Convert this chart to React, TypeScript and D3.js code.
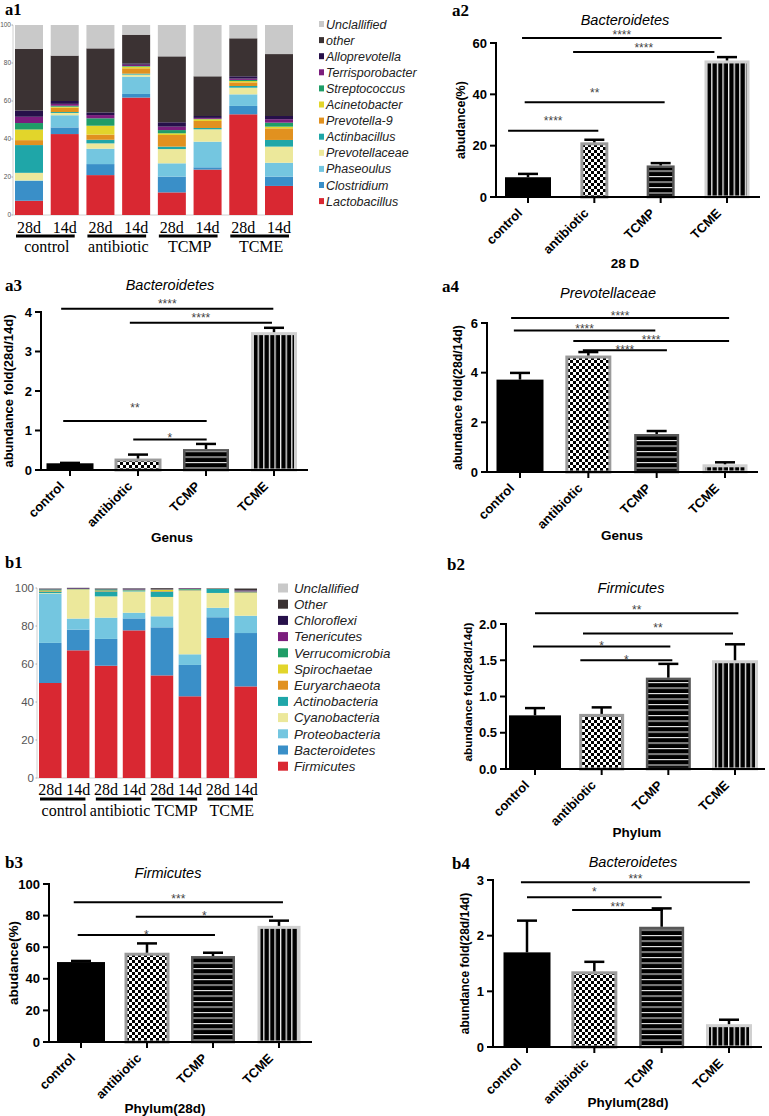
import React from 'react';
import * as d3 from 'd3';

const W = 769;
const H = 1116;
const SANS = "'Liberation Sans', Arial, sans-serif";
const SERIF = "'Liberation Serif', 'Times New Roman', serif";

// ---------- data ----------
const groups = ['control', 'antibiotic', 'TCMP', 'TCME'];
const days = ['28d', '14d'];

const genusNames = ['Lactobacillus', 'Clostridium', 'Phaseoulus', 'Prevotellaceae', 'Actinbacillus', 'Prevotella-9', 'Acinetobacter', 'Streptococcus', 'Terrisporobacter', 'Alloprevotella', 'other', 'Unclallified'];
const genusColors = ['#d92832', '#3a8fc8', '#74c6e0', '#ece89b', '#1fa6a8', '#e1911f', '#e2d52b', '#1f9d67', '#7b1d7d', '#26104a', '#3b3233', '#c9c9c9'];
const genusValues = [
  [7.5, 10.4, 0.3, 4.0, 14.6, 2.6, 5.6, 3.4, 3.3, 3.3, 32.5, 12.5],
  [42.6, 3.5, 6.4, 1.2, 0.5, 2.3, 0.5, 0.5, 1.0, 1.5, 23.9, 16.1],
  [21.0, 5.8, 8.1, 2.8, 1.9, 2.7, 4.7, 3.9, 1.7, 1.4, 33.7, 12.3],
  [61.8, 1.9, 9.1, 1.1, 0.5, 2.8, 0.9, 0.3, 0.7, 0.7, 15.1, 5.1],
  [11.9, 8.3, 7.0, 7.5, 1.3, 6.1, 0.9, 1.7, 1.8, 2.3, 34.7, 16.5],
  [23.9, 1.2, 13.5, 6.5, 0.7, 3.7, 0.9, 0.2, 0.5, 1.0, 20.9, 27.0],
  [53.0, 4.4, 6.1, 3.5, 0.9, 1.9, 0.7, 0.6, 0.7, 1.2, 20.0, 7.0],
  [15.3, 4.9, 7.3, 8.5, 3.5, 6.1, 0.9, 2.1, 1.8, 1.7, 32.6, 15.3],
];

const phylumNames = ['Firmicutes', 'Bacteroidetes', 'Proteobacteria', 'Cyanobacteria', 'Actinobacteria', 'Euryarchaeota', 'Spirochaetae', 'Verrucomicrobia', 'Tenericutes', 'Chloroflexi', 'Other', 'Unclallified'];
const phylumColors = ['#d92832', '#3a8fc8', '#74c6e0', '#ece89b', '#1fa6a8', '#e1911f', '#e2d52b', '#1f9d67', '#7b1d7d', '#26104a', '#3b3233', '#c9c9c9'];
const phylumValues = [
  [50.0, 21.1, 25.9, 0.3, 0.8, 0.3, 0.3, 0.6, 0.2, 0.1, 0.2, 0.2],
  [67.2, 10.9, 5.8, 15.2, 0.1, 0.1, 0.1, 0.1, 0.2, 0.3, 0.1, 0.0],
  [59.1, 14.1, 11.2, 11.2, 2.6, 0.4, 0.1, 0.6, 0.1, 0.1, 0.3, 0.2],
  [77.7, 6.3, 3.0, 11.2, 0.6, 0.1, 0.1, 0.1, 0.2, 0.4, 0.2, 0.1],
  [54.0, 25.3, 5.8, 10.2, 2.8, 0.3, 0.7, 0.1, 0.1, 0.3, 0.4, 0.0],
  [43.0, 16.5, 5.6, 33.5, 0.2, 0.2, 0.1, 0.4, 0.3, 0.1, 0.1, 0.0],
  [73.7, 10.9, 5.0, 7.8, 2.1, 0.1, 0.1, 0.1, 0.1, 0.1, 0.0, 0.0],
  [48.2, 28.1, 9.1, 12.0, 0.3, 0.2, 0.1, 0.2, 0.4, 0.2, 1.0, 0.2],
];
const stackTicks = [0, 20, 40, 60, 80, 100];

const a2Means = [7.7, 21.3, 12.3, 53.2];
const a2Errors = [1.3, 1.0, 0.9, 1.3];
const a2Ticks = [0, 20, 40, 60];
const a2Sig = [
  { from: -0.09, to: 2.92, at: 61.9, starAt: 64.2, stars: '****' },
  { from: 0.68, to: 2.81, at: 56.5, starAt: 59.1, stars: '****' },
  { from: -0.05, to: 2.06, at: 36.9, starAt: 41.8, stars: '**' },
  { from: -0.3, to: 1.06, at: 25.8, starAt: 30.8, stars: '****' },
];

const a3Means = [0.17, 0.29, 0.53, 3.49];
const a3Errors = [0.01, 0.1, 0.13, 0.11];
const a3Ticks = [0, 1, 2, 3, 4];
const a3Sig = [
  { from: -0.13, to: 2.99, at: 4.08, starAt: 4.28, stars: '****' },
  { from: 0.88, to: 2.97, at: 3.73, starAt: 3.92, stars: '****' },
  { from: -0.1, to: 2.01, at: 1.24, starAt: 1.64, stars: '**' },
  { from: 0.93, to: 2.01, at: 0.77, starAt: 0.88, stars: '*' },
];

const a4Means = [3.72, 4.69, 1.53, 0.31];
const a4Errors = [0.27, 0.14, 0.12, 0.08];
const a4Ticks = [0, 2, 4, 6];
const a4Sig = [
  { from: -0.13, to: 3.06, at: 6.2, starAt: 6.4, stars: '****' },
  { from: -0.09, to: 1.98, at: 5.7, starAt: 5.89, stars: '****' },
  { from: 0.78, to: 3.06, at: 5.28, starAt: 5.44, stars: '****' },
  { from: 0.92, to: 2.15, at: 4.9, starAt: 5.04, stars: '****' },
];

const b2Means = [0.74, 0.76, 1.26, 1.5];
const b2Errors = [0.1, 0.09, 0.19, 0.22];
const b2Ticks = [0, 0.5, 1.0, 1.5, 2.0];
const b2Sig = [
  { from: 0, to: 3.05, at: 2.15, starAt: 2.23, stars: '**' },
  { from: 0.72, to: 2.97, at: 1.87, starAt: 1.99, stars: '**' },
  { from: -0.03, to: 2.03, at: 1.69, starAt: 1.74, stars: '*' },
  { from: 0.68, to: 2.06, at: 1.5, starAt: 1.55, stars: '*' },
];

const b3Means = [50.6, 56.5, 54.4, 73.5];
const b3Errors = [0.7, 5.9, 2.1, 3.3];
const b3Ticks = [0, 20, 40, 60, 80, 100];
const b3Sig = [
  { from: -0.11, to: 3.06, at: 88.4, starAt: 92.4, stars: '***' },
  { from: 0.83, to: 2.91, at: 79.3, starAt: 81.4, stars: '*' },
  { from: -0.05, to: 2.03, at: 67.7, starAt: 69.8, stars: '*' },
];

const b4Means = [1.7, 1.36, 2.16, 0.41];
const b4Errors = [0.57, 0.17, 0.33, 0.08];
const b4Ticks = [0, 1, 2, 3];
const b4Sig = [
  { from: -0.09, to: 3.31, at: 2.96, starAt: 3.07, stars: '***' },
  { from: 0, to: 2.0, at: 2.69, starAt: 2.83, stars: '*' },
  { from: 0.67, to: 2.02, at: 2.46, starAt: 2.56, stars: '***' },
];

// ---------- styles / layout ----------
const fillFor = ['#000000', 'url(#pat-checker)', 'url(#pat-hstripe)', 'url(#pat-vstripe)'];
const strokeFor = ['none', '#9b9b9b', '#585858', '#d0d0d0'];
const strokeW = [0, 3, 2.5, 3];

const a1Layout = { label: 'a1', labelX: 5, labelY: 15, x0: 15, x1: 293, pad: 0.216, yTop: 25, yZero: 215, tickRight: 11, tickFont: 6.5, axisX: 13, legSqX: 319, legSqW: 5, legSqH: 6, legTextX: 326, legY0: 24, legStep: 16.1, legFont: 12.5, dayY: 233, lineY: 236, groupY: 252 };
const b1Layout = { label: 'b1', labelX: 5, labelY: 568, x0: 39, x1: 257, pad: 0.194, yTop: 588, yZero: 778, tickRight: 34, tickFont: 11.5, axisX: 37, legSqX: 278, legSqW: 10, legSqH: 9, legTextX: 294, legY0: 588, legStep: 16.2, legFont: 13.3, dayY: 795, lineY: 799, groupY: 816 };

const a2Cfg = { label: 'a2', labelX: 452, labelY: 16, title: 'Bacteroidetes', titleX: 625, titleY: 25, axisX: 496, axisEnd: 760, yMax: 60, yTop: 43, yZero: 197, c0: 528, c3: 727, widths: [46, 28, 28, 45], fmt: 'd', ticks: a2Ticks, means: a2Means, errors: a2Errors, sig: a2Sig, yLabel: 'abudance(%)', yLabelX: 460, yLabelSize: 12.5, xTitle: '28 D', xTitleX: 625, xTitleY: 268 };
const a3Cfg = { label: 'a3', labelX: 5, labelY: 291, title: 'Bacteroidetes', titleX: 170, titleY: 290, axisX: 41, axisEnd: 308, yMax: 4, yTop: 312, yZero: 470, c0: 70, c3: 274, widths: [47, 47, 46, 46], fmt: 'd', ticks: a3Ticks, means: a3Means, errors: a3Errors, sig: a3Sig, yLabel: 'abundance fold(28d/14d)', yLabelX: 8, yLabelSize: 13, xTitle: 'Genus', xTitleX: 172, xTitleY: 542 };
const a4Cfg = { label: 'a4', labelX: 442, labelY: 292, title: 'Prevotellaceae', titleX: 608, titleY: 298, axisX: 487, axisEnd: 758, yMax: 6, yTop: 323, yZero: 472, c0: 520, c3: 725, widths: [47, 46, 45, 45], fmt: 'd', ticks: a4Ticks, means: a4Means, errors: a4Errors, sig: a4Sig, yLabel: 'abundance fold(28d/14d)', yLabelX: 458, yLabelSize: 12.3, xTitle: 'Genus', xTitleX: 622, xTitleY: 540 };
const b2Cfg = { label: 'b2', labelX: 447, labelY: 570, title: 'Firmicutes', titleX: 631, titleY: 593, axisX: 506, axisEnd: 765, yMax: 2, yTop: 624, yZero: 769, c0: 535, c3: 735, widths: [52, 45, 45, 46], fmt: '.1f', ticks: b2Ticks, means: b2Means, errors: b2Errors, sig: b2Sig, yLabel: 'abundance fold(28d/14d)', yLabelX: 468, yLabelY: 692, yLabelSize: 11.8, xTitle: 'Phylum', xTitleX: 637, xTitleY: 837 };
const b3Cfg = { label: 'b3', labelX: 5, labelY: 868, title: 'Firmicutes', titleX: 168, titleY: 878, axisX: 49, axisEnd: 312, yMax: 100, yTop: 884, yZero: 1042, c0: 81, c3: 279, widths: [48, 45, 44, 43], fmt: 'd', ticks: b3Ticks, means: b3Means, errors: b3Errors, sig: b3Sig, yLabel: 'abudance(%)', yLabelX: 13, yLabelSize: 13.5, xTitle: 'Phylum(28d)', xTitleX: 165, xTitleY: 1113 };
const b4Cfg = { label: 'b4', labelX: 452, labelY: 869, title: 'Bacteroidetes', titleX: 633, titleY: 867, axisX: 493, axisEnd: 762, yMax: 3, yTop: 880, yZero: 1047, c0: 527, c3: 729, widths: [47, 46, 45, 46], fmt: 'd', ticks: b4Ticks, means: b4Means, errors: b4Errors, sig: b4Sig, yLabel: 'abundance fold(28d/14d)', yLabelX: 465, yLabelSize: 12, xTitle: 'Phylum(28d)', xTitleX: 628, xTitleY: 1107 };

// ---------- components ----------
function StackedPanel({ p, names, colors, values }: any) {
  const samples = groups.flatMap((g) => days.map((d) => `${g} ${d}`));
  const x = d3.scaleBand().domain(samples).range([p.x0, p.x1]).paddingInner(p.pad).paddingOuter(0);
  const y = d3.scaleLinear().domain([0, 100]).range([p.yZero, p.yTop]);
  const keys = d3.range(names.length);
  const series = d3.stack<number[], number>().keys(keys).value((row, k) => row[k])(values);
  const bw = x.bandwidth();
  return (
    <g>
      <text x={p.labelX} y={p.labelY} fontFamily={SERIF} fontWeight="bold" fontSize={16.5}>{p.label}</text>
      <line x1={p.axisX} x2={p.axisX} y1={p.yTop} y2={p.yZero} stroke="#c4c4c4" strokeWidth={0.8} />
      <line x1={p.axisX} x2={p.x1} y1={p.yZero} y2={p.yZero} stroke="#c4c4c4" strokeWidth={0.8} />
      {stackTicks.map((t) => (
        <g key={t}>
          <line x1={p.axisX - 1.5} x2={p.axisX} y1={y(t)} y2={y(t)} stroke="#999" strokeWidth={0.8} />
          <text x={p.tickRight} y={y(t)} dy="0.35em" textAnchor="end" fontFamily={SANS} fontSize={p.tickFont} fill="#555">{t}</text>
        </g>
      ))}
      {series.map((s, k) => (
        <g key={k} fill={colors[k]}>
          {s.map((d, i) => (
            <rect key={i} x={x(samples[i])} y={y(d[1])} width={bw} height={Math.max(0, y(d[0]) - y(d[1]))} />
          ))}
        </g>
      ))}
      {samples.map((s, i) => (
        <text key={s} x={(x(s) as number) + bw / 2} y={p.dayY} textAnchor="middle" fontFamily={SERIF} fontSize={16}>{days[i % 2]}</text>
      ))}
      {groups.map((g) => {
        const a = x(`${g} ${days[0]}`) as number;
        const b = (x(`${g} ${days[1]}`) as number) + bw;
        return (
          <g key={g}>
            <line x1={a + 1} x2={b - 4} y1={p.lineY} y2={p.lineY} stroke="#000" strokeWidth={3} />
            <text x={(a + b) / 2} y={p.groupY} textAnchor="middle" fontFamily={SERIF} fontSize={16}>{g}</text>
          </g>
        );
      })}
      {names.map((_: string, r: number) => {
        const k = names.length - 1 - r;
        const cy = p.legY0 + r * p.legStep;
        return (
          <g key={r}>
            <rect x={p.legSqX} y={cy - p.legSqH / 2} width={p.legSqW} height={p.legSqH} fill={colors[k]} />
            <text x={p.legTextX} y={cy} dy="0.36em" fontFamily={SANS} fontStyle="italic" fontSize={p.legFont} fill="#222">{names[k]}</text>
          </g>
        );
      })}
    </g>
  );
}

function BarPanel({ c }: any) {
  const y = d3.scaleLinear().domain([0, c.yMax]).range([c.yZero, c.yTop]);
  const x = d3.scaleLinear().domain([0, groups.length - 1]).range([c.c0, c.c3]);
  const fmt = d3.format(c.fmt);
  const yMid = c.yLabelY ?? (c.yTop + c.yZero) / 2;
  return (
    <g>
      <text x={c.labelX} y={c.labelY} fontFamily={SERIF} fontWeight="bold" fontSize={17}>{c.label}</text>
      <text x={c.titleX} y={c.titleY} textAnchor="middle" fontFamily={SANS} fontStyle="italic" fontSize={14.5}>{c.title}</text>
      {groups.map((g, i) => {
        const w = c.widths[i];
        const sw = strokeW[i];
        const top = y(c.means[i]);
        return (
          <rect key={g} x={x(i) - w / 2 + sw / 2} y={top + sw / 2} width={w - sw} height={Math.max(0, c.yZero - top - sw / 2)}
            fill={fillFor[i]} stroke={sw ? strokeFor[i] : 'none'} strokeWidth={sw} />
        );
      })}
      {groups.map((g, i) => {
        const top = y(c.means[i]);
        const up = y(c.means[i] + c.errors[i]);
        return (
          <g key={g} stroke="#000" strokeWidth={2.5}>
            <line x1={x(i)} x2={x(i)} y1={top} y2={up} />
            <line x1={x(i) - 10} x2={x(i) + 10} y1={up} y2={up} />
          </g>
        );
      })}
      <line x1={c.axisX} x2={c.axisX} y1={c.yTop - 1} y2={c.yZero} stroke="#000" strokeWidth={2} />
      <line x1={c.axisX - 1} x2={c.axisEnd} y1={c.yZero} y2={c.yZero} stroke="#000" strokeWidth={2} />
      {c.ticks.map((t: number) => (
        <g key={t}>
          <line x1={c.axisX - 6} x2={c.axisX} y1={y(t)} y2={y(t)} stroke="#000" strokeWidth={2} />
          <text x={c.axisX - 9} y={y(t)} dy="0.36em" textAnchor="end" fontFamily={SANS} fontWeight="bold" fontSize={13}>{fmt(t)}</text>
        </g>
      ))}
      {groups.map((g, i) => (
        <g key={g}>
          <line x1={x(i)} x2={x(i)} y1={c.yZero} y2={c.yZero + 6} stroke="#000" strokeWidth={2} />
          <text transform={`translate(${x(i) - 5},${c.yZero + 17}) rotate(-45)`} textAnchor="end" fontFamily={SANS} fontWeight="bold" fontSize={13}>{g}</text>
        </g>
      ))}
      {c.sig.map((s: any, k: number) => (
        <g key={k}>
          <line x1={x(s.from)} x2={x(s.to)} y1={y(s.at)} y2={y(s.at)} stroke="#000" strokeWidth={2} />
          <text x={(x(s.from) + x(s.to)) / 2} y={y(s.starAt) + 7} textAnchor="middle" fontFamily={SANS} fontSize={12} fill="#444">{s.stars}</text>
        </g>
      ))}
      <text transform={`translate(${c.yLabelX + c.yLabelSize * 0.36},${yMid}) rotate(-90)`} textAnchor="middle" fontFamily={SANS} fontWeight="bold" fontSize={c.yLabelSize}>{c.yLabel}</text>
      <text x={c.xTitleX} y={c.xTitleY} textAnchor="middle" fontFamily={SANS} fontWeight="bold" fontSize={13.5}>{c.xTitle}</text>
    </g>
  );
}

export default function App() {
  return (
    <svg width={W} height={H} viewBox={`0 0 ${W} ${H}`} style={{ position: 'absolute', left: 0, top: 0, background: '#fff' }}>
      <defs>
        <pattern id="pat-checker" patternUnits="userSpaceOnUse" width={6} height={6}>
          <rect width={6} height={6} fill="#fff" />
          <rect width={3} height={3} fill="#000" />
          <rect x={3} y={3} width={3} height={3} fill="#000" />
        </pattern>
        <pattern id="pat-hstripe" patternUnits="userSpaceOnUse" width={6} height={5.5}>
          <rect width={6} height={5.5} fill="#000" />
          <rect y={0} width={6} height={1.1} fill="#e6e6e6" />
        </pattern>
        <pattern id="pat-vstripe" patternUnits="userSpaceOnUse" width={5.6} height={6}>
          <rect width={5.6} height={6} fill="#000" />
          <rect x={0} width={1.3} height={6} fill="#f0f0f0" />
        </pattern>
      </defs>
      <rect width={W} height={H} fill="#fff" />
      <StackedPanel p={a1Layout} names={genusNames} colors={genusColors} values={genusValues} />
      <StackedPanel p={b1Layout} names={phylumNames} colors={phylumColors} values={phylumValues} />
      <BarPanel c={a2Cfg} />
      <BarPanel c={a3Cfg} />
      <BarPanel c={a4Cfg} />
      <BarPanel c={b2Cfg} />
      <BarPanel c={b3Cfg} />
      <BarPanel c={b4Cfg} />
    </svg>
  );
}
